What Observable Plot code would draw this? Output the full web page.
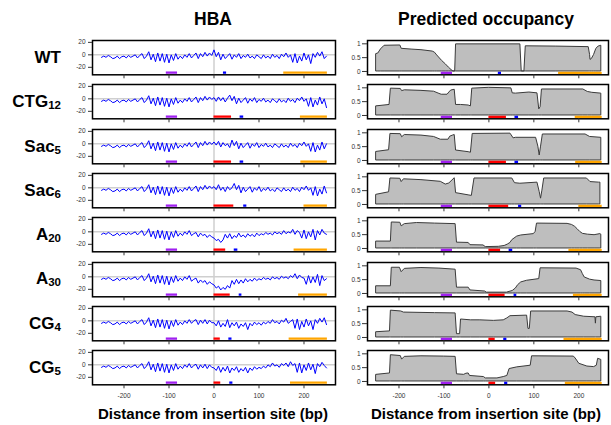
<!DOCTYPE html>
<html><head><meta charset="utf-8">
<script src="https://cdn.jsdelivr.net/npm/d3@7"></script>
<script src="https://cdn.jsdelivr.net/npm/@observablehq/plot@0.6"></script>
<style>
body{margin:0;background:#fff;}
#chart{position:relative;width:611px;height:425px;font-family:"Liberation Sans",Arial,Helvetica,sans-serif;overflow:hidden;background:#fff;}
.abs{position:absolute;white-space:nowrap;line-height:1;font-weight:bold;color:#000;}
.title{font-size:17.5px;transform:translateX(-50%);}
.rowlab{font-size:17px;text-align:right;left:0;width:61px;}
.rowlab span{font-size:11.5px;position:relative;top:2px;}
.xtitle{font-size:15px;transform:translateX(-50%);}
#chart svg{position:absolute;}
</style></head><body><div id="chart"></div>
<script>
// ---------- data ----------
const rowNames = ["WT","CTG12","Sac5","Sac6","A20","A30","CG4","CG5"];
const rowMain  = ["WT","CTG","Sac","Sac","A","A","CG","CG"];
const rowSub   = ["","12","5","6","20","30","4","5"];
const xTicks = [-200,-100,0,100,200];
const hbaTicks = [-20,0,20];
const occTicks = [0,0.5,1];

// HBA signal, sampled every 5 bp starting at -250
const HBA_START = -250, HBA_STEP = 5;
// shared upstream flank, -250 .. -55
const hbaFlank = [-4,-2,-4,-1,-3,-6,-5,-2,-6,-3, -2,-5,-1,-4,-2,0,-5,-1,2,-6,
  -2,5,-8,1,-11,3,-10,2,-12,1, -13,0,-9,2,-7,-2,-6,0,-4,2];
// per-row values, -50 .. 250
const hbaWT = [-5,-1,3,-6,2,-3,4,-2,3,-1,
  8,-3,4,-8,1,-6,-2,2,-7,0,-4,2,-6,-1,-4,1,-5,-2,-6,0,-3,-6,0,-5,-2,-6,1,-4,-1,-6,1,-3,3,-4,0,-12,2,-13,-2,-10,3,-8,0,-14,2,-4,4,-2,5,-6,-2];
const hbaCTG12 = [-5,-1,3,-6,2,-3,4,-2,3,-1,
  2,-4,3,-3,2,-5,1,6,-3,4,-8,1,-6,-2,2,-7,0,-4,2,-6,-1,-4,1,-5,-2,-6,0,-3,-6,0,-5,-2,-6,1,-4,-1,-6,1,-3,3,-4,0,-12,2,-13,-2,-10,3,-8,0,-14];
const hbaSac5 = [-5,-1,3,-6,2,-3,4,-2,3,-1,
  3,-2,4,-5,2,-3,0,-6,6,-3,4,-8,1,-6,-2,2,-7,0,-4,2,-6,-1,-4,1,-5,-2,-6,0,-3,-6,0,-5,-2,-6,1,-4,-1,-6,1,-3,3,-4,0,-12,2,-13,-2,-10,3,-8,0];
const hbaSac6 = [-5,-1,3,-6,2,-3,4,-2,3,-1,
  2,-3,5,-4,1,-6,2,-3,0,7,-3,4,-8,1,-6,-2,2,-7,0,-4,2,-6,-1,-4,1,-5,-2,-6,0,-3,-6,0,-5,-2,-6,1,-4,-1,-6,1,-3,3,-4,0,-12,2,-13,-2,-10,3,-8];
const hbaA20 = [-6,-3,-1,-8,-2,-6,-4,-9,-5,-8,
  -10,-14,-12,-17,-13,-4,-10,-3,-11,-6,-9,-2,-8,-5,-9,-3,-7,-4,-8,-2,-6,-3,-5,-1,-4,-2,-5,0,-3,-1,-4,2,-3,0,-2,4,-4,2,-1,-10,3,-11,0,-8,4,-13,2,-5,4,-2,-4];
const hbaA30 = [-7,-4,-2,-10,-5,-9,-6,-12,-8,-11,
  -13,-18,-15,-21,-17,-20,-14,-18,-6,-12,-4,-11,-5,-10,-3,-8,-4,-7,-2,-6,-3,-5,-1,-4,-2,-5,0,-3,-1,-4,1,-2,0,-3,2,-1,5,-3,3,-1,-2,-12,2,-10,0,-9,4,-14,2,-6,-3];
const hbaCG4 = [-4,0,2,-6,1,-4,2,-5,1,-3,
  -3,-8,0,-10,-4,-9,2,-11,-3,-8,-2,-12,-5,-9,-3,-14,-4,-8,-2,-6,-3,-7,-2,-5,-1,-4,2,-3,-1,-5,1,-2,4,-4,-1,2,-12,3,-14,-1,-10,3,-8,0,-14,2,-4,4,-2,5,-6];
const hbaCG5 = [-5,-1,1,-7,0,-5,1,-6,0,-4,
  -5,-9,-2,-12,-4,-10,-2,-13,-5,-9,-3,-12,-6,-10,-4,-13,-5,-9,-3,-7,-4,-6,-2,-5,0,-3,3,-2,0,-4,2,-1,3,-3,5,-1,2,-12,3,-13,0,-9,3,-8,1,-14,2,-3,4,-1,-5];
const hbaRows = [hbaWT,hbaCTG12,hbaSac5,hbaSac6,hbaA20,hbaA30,hbaCG4,hbaCG5];

// predicted occupancy, [bp, occupancy]
const occWT = [[-250,0.63],[-246,0.65],[-240,0.8],[-232,0.93],[-197,0.94],[-194,0.82],[-170,0.79],[-150,0.77],[-125,0.72],[-120,0.68],[-115,0.58],[-104,0.38],[-96,0.26],[-89,0.14],[-83,0.05],[-79,0],[-75,0],[-73,0.98],[70,0.98],[73,0],[79,0],[82,0.91],[150,0.9],[222,0.88],[225,0.6],[226,0.42],[229,0.45],[234,0.6],[239,0.82],[244,0.9],[250,0.93]];
const occCTG12 = [[-250,0.33],[-221,0.38],[-218,0.97],[-196,0.96],[-193,0.88],[-187,0.91],[-150,0.89],[-122,0.86],[-110,0.78],[-105,0.75],[-92,0.75],[-88,0.83],[-84,0.9],[-76,0.93],[-73,0.38],[-62,0.38],[-45,0.36],[-40,0.33],[-37,0.97],[0,1.0],[50,0.98],[53,0.8],[60,0.79],[90,0.83],[108,0.8],[112,0.22],[115,0.3],[118,0.94],[210,0.94],[220,0.85],[230,0.82],[250,0.79]];
const occSac5 = [[-250,0.31],[-222,0.37],[-219,0.96],[-196,0.95],[-193,0.84],[-187,0.92],[-150,0.9],[-122,0.85],[-107,0.75],[-90,0.75],[-86,0.86],[-80,0.9],[-76,0.92],[-73,0.36],[-45,0.3],[-40,0.28],[-36,0.96],[48,0.97],[55,0.8],[60,0.82],[105,0.82],[110,0.5],[113,0.18],[116,0.5],[120,0.94],[215,0.94],[225,0.85],[250,0.82]];
const occSac6 = [[-250,0.35],[-222,0.44],[-219,0.94],[-197,0.93],[-194,0.81],[-189,0.91],[-150,0.88],[-107,0.82],[-96,0.72],[-88,0.76],[-81,0.87],[-76,0.95],[-73,0.41],[-45,0.33],[-38,0.31],[-32,0.94],[52,0.94],[58,0.77],[70,0.75],[108,0.79],[113,0.45],[116,0.21],[119,0.5],[123,0.94],[218,0.94],[226,0.81],[245,0.79],[248,0.79]];
const occA20 = [[-250,0.25],[-218,0.25],[-216,0.94],[-197,0.93],[-194,0.8],[-187,0.88],[-160,0.92],[-120,0.9],[-74,0.88],[-71,0.21],[-45,0.2],[-41,0.12],[-12,0.11],[-7,0.05],[22,0.06],[35,0.09],[42,0.14],[48,0.2],[52,0.3],[57,0.36],[63,0.43],[72,0.47],[100,0.52],[104,0.6],[107,0.9],[175,0.89],[185,0.85],[192,0.78],[197,0.7],[203,0.6],[209,0.53],[220,0.5],[235,0.48],[248,0.52],[250,0.5]];
const occA30 = [[-250,0.26],[-218,0.26],[-216,0.93],[-198,0.93],[-194,0.77],[-187,0.89],[-150,0.92],[-110,0.9],[-74,0.86],[-71,0.21],[-45,0.21],[-41,0.11],[-8,0.07],[-5,0.03],[40,0.03],[53,0.09],[60,0.18],[65,0.3],[72,0.4],[85,0.46],[112,0.52],[115,0.91],[195,0.9],[205,0.84],[209,0.7],[213,0.58],[225,0.5],[235,0.47],[250,0.45]];
const occCG4 = [[-250,0.19],[-220,0.22],[-218,0.97],[-195,0.94],[-189,0.9],[-120,0.88],[-74,0.87],[-71,0.12],[-64,0.12],[-62,0.65],[-40,0.62],[-19,0.62],[11,0.6],[33,0.62],[41,0.69],[48,0.77],[85,0.79],[88,0.31],[91,0.31],[94,0.94],[175,0.94],[186,0.9],[193,0.81],[212,0.75],[237,0.73],[238,0.5],[239,0.73],[250,0.75]];
const occCG5 = [[-250,0.24],[-220,0.29],[-218,0.95],[-196,0.92],[-193,0.79],[-187,0.89],[-150,0.91],[-100,0.9],[-74,0.89],[-71,0.26],[-55,0.24],[-50,0.28],[-45,0.29],[-42,0.2],[-11,0.16],[-7,0.11],[19,0.11],[33,0.16],[41,0.2],[46,0.45],[63,0.51],[93,0.57],[96,0.91],[189,0.9],[193,0.83],[201,0.64],[219,0.54],[234,0.52],[240,0.57],[243,0.82],[250,0.78]];
const occRows = [occWT,occCTG12,occSac5,occSac6,occA20,occA30,occCG4,occCG5];

// annotation bars (bp)
const purpleSeg = [-106,-81];
const redStart = [null,0,0,0,0,0,0,0];
const redEnd   = [null,39,39,44,26,36,14,15];
const blueStart = [21,58,58,66,45,56,33,35];
const blueEnd   = [28,66,66,73,53,62,40,42];
const orangeStart = [155,192,193,200,178,188,167,170];
const orangeEnd = 252;

// ---------- layout ----------
const chart = document.getElementById("chart");
const FONT = '"Liberation Sans",Arial,Helvetica,sans-serif';
const ROW0 = 40, PITCH = 44.3, BOXH = 34.3, MT = 6;

function segsFor(i, y) {
  const s = [{x1: purpleSeg[0], x2: purpleSeg[1], c: "#a020f0"}];
  if (redStart[i] !== null) s.push({x1: redStart[i], x2: redEnd[i], c: "#ff0000"});
  s.push({x1: blueStart[i], x2: blueEnd[i], c: "#0000ff"});
  s.push({x1: orangeStart[i], x2: orangeEnd, c: "#ffa500"});
  return s.map(d => Plot.ruleY([{...d, y}], {x1: "x1", x2: "x2", y: "y", stroke: d.c, strokeWidth: 2.3}));
}

function place(svg, left, top) {
  svg.style.left = left + "px";
  svg.style.top = top + "px";
  chart.appendChild(svg);
}

rowNames.forEach((name, i) => {
  const top = ROW0 + i * PITCH;
  const bottom = i === rowNames.length - 1;
  const MB = bottom ? 24 : 6;
  const common = {
    height: MT + BOXH + MB, marginTop: MT, marginBottom: MB,
    style: {background: "transparent", fontFamily: FONT, fontSize: "6.5px", color: "#333", overflow: "visible"}
  };
  const xAxis = Plot.axisX({ticks: xTicks, tickSize: 4, tickPadding: 5, label: null,
    tickFormat: bottom ? (d => String(d)) : (() => ""), stroke: "#333"});

  // HBA panel
  const vals = hbaFlank.concat(hbaRows[i]);
  const hba = vals.map((v, k) => ({x: HBA_START + k * HBA_STEP, y: v}));
  const left = Plot.plot({
    ...common, width: 340, marginLeft: 92, marginRight: 5,
    x: {domain: [-270, 270], label: null},
    y: {domain: [-32, 23], label: null},
    marks: [
      Plot.ruleY([0], {stroke: "#cfcfcf", strokeWidth: 1.5}),
      Plot.ruleX([0], {stroke: "#cfcfcf", strokeWidth: 1.5}),
      Plot.line(hba, {x: "x", y: "y", stroke: "#0000ff", strokeWidth: 1}),
      ...segsFor(i, -28.5),
      Plot.frame({stroke: "#000", strokeWidth: 1.5}),
      Plot.axisY({ticks: hbaTicks, tickSize: 4, tickPadding: 3, label: null, tickFormat: d => String(d)}),
      xAxis
    ]
  });
  place(left, 0, top - MT);

  // Occupancy panel
  const occ = occRows[i].map(([x, y]) => ({x, y}));
  const right = Plot.plot({
    ...common, width: 271, marginLeft: 27, marginRight: 3,
    x: {domain: [-270, 266], label: null},
    y: {domain: [-0.12, 1.12], label: null},
    marks: [
      Plot.areaY(occ, {x: "x", y: "y", fill: "#bebebe", stroke: "#3a3a3a", strokeWidth: 1}),
      ...segsFor(i, -0.05),
      Plot.frame({stroke: "#000", strokeWidth: 1.5}),
      Plot.axisY({ticks: occTicks, tickSize: 5, tickPadding: 2, label: null, tickFormat: d => String(d)}),
      Plot.axisX({ticks: xTicks, tickSize: 4, tickPadding: 5, label: null,
        tickFormat: bottom ? (d => String(d)) : (() => ""), stroke: "#333"})
    ]
  });
  place(right, 340, top - MT);

  // row label
  const lab = document.createElement("div");
  lab.className = "abs rowlab";
  lab.style.top = (top + 8.9) + "px";
  lab.innerHTML = rowMain[i] + (rowSub[i] ? "<span>" + rowSub[i] + "</span>" : "");
  chart.appendChild(lab);
});

function addText(cls, text, x, y) {
  const d = document.createElement("div");
  d.className = "abs " + cls;
  d.style.left = x + "px";
  d.style.top = y + "px";
  d.textContent = text;
  chart.appendChild(d);
}
addText("title", "HBA", 213, 10.9);
addText("title", "Predicted occupancy", 486, 10.9);
addText("xtitle", "Distance from insertion site (bp)", 213, 406.3);
addText("xtitle", "Distance from insertion site (bp)", 486, 406.3);
</script></body></html>
